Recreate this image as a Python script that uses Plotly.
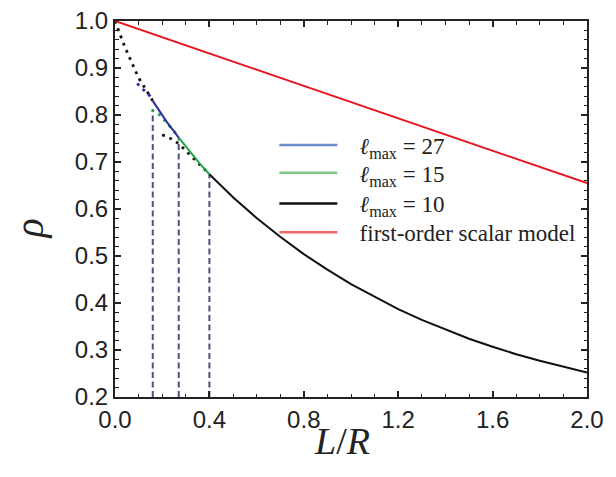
import plotly.graph_objects as go

# ---- data ----
# l_max = 10 (solid part, valid region)
x_l10 = [0.4, 0.5, 0.6, 0.7, 0.8, 0.9, 1.0, 1.1, 1.2, 1.3, 1.4, 1.5, 1.6, 1.7, 1.8, 1.9, 2.0]
rho_l10 = [0.674, 0.625, 0.581, 0.541, 0.504, 0.471, 0.440, 0.413, 0.387, 0.364, 0.344,
           0.324, 0.307, 0.291, 0.277, 0.264, 0.252]
# l_max = 10 (dotted extension)
x_l10_ext = [0.20, 0.24, 0.27, 0.30, 0.33, 0.37, 0.40]
rho_l10_ext = [0.758, 0.749, 0.739, 0.724, 0.710, 0.690, 0.674]

# l_max = 15
x_l15 = [0.27, 0.30, 0.33, 0.36, 0.40]
rho_l15 = [0.752, 0.733, 0.714, 0.696, 0.674]
x_l15_ext = [0.155, 0.19, 0.22, 0.25, 0.27]
rho_l15_ext = [0.811, 0.800, 0.783, 0.766, 0.752]

# l_max = 27
x_l27 = [0.16, 0.19, 0.22, 0.25, 0.27]
rho_l27 = [0.830, 0.807, 0.785, 0.765, 0.752]
x_l27_ext = [0.094, 0.12, 0.147, 0.16]
rho_l27_ext = [0.867, 0.855, 0.841, 0.830]

# extrapolation towards L/R = 0
x_zero = [0.0, 0.02, 0.04, 0.06, 0.08, 0.10, 0.13, 0.16]
rho_zero = [1.0, 0.972, 0.947, 0.924, 0.901, 0.879, 0.855, 0.830]

# first-order scalar model
x_scalar = [0.0, 2.0]
rho_scalar = [1.0, 0.655]

# validity cut-offs (vertical dashed markers)
x_cut = [0.16, 0.27, 0.40]
rho_cut_top = [0.812, 0.752, 0.674]
rho_floor = 0.2

xticks = [0.0, 0.4, 0.8, 1.2, 1.6, 2.0]
xticklabels = ["0.0", "0.4", "0.8", "1.2", "1.6", "2.0"]
yticks = [0.2, 0.3, 0.4, 0.5, 0.6, 0.7, 0.8, 0.9, 1.0]
yticklabels = ["0.2", "0.3", "0.4", "0.5", "0.6", "0.7", "0.8", "0.9", "1.0"]

legend_names = ["<i>ℓ</i><sub>max</sub> = 27", "<i>ℓ</i><sub>max</sub> = 15",
                "<i>ℓ</i><sub>max</sub> = 10", "first-order scalar model"]
x_title = "<i>L</i>/<i>R</i>"
y_title = "<i>ρ</i>"

BLUE = "#2e2e9e"
GREEN = "#1fa845"
RED = "#e8141e"
BLACK = "#111111"
VDASH = "#50507c"
LEG_COLORS = ["#6b8cca", "#7ec87e", "#111111", "#ee6a6a"]

fig = go.Figure()

# vertical dashed cut-off lines
vx, vy = [], []
for xc, yt in zip(x_cut, rho_cut_top):
    vx += [xc, xc, None]
    vy += [rho_floor, yt, None]
fig.add_trace(go.Scatter(x=vx, y=vy, mode="lines", showlegend=False,
                         line=dict(color=VDASH, width=2, dash="6px,3.5px")))

dot = "2.8px,5px"
fig.add_trace(go.Scatter(x=x_zero, y=rho_zero, mode="lines", showlegend=False,
                         line=dict(color=BLACK, width=2.8, dash=dot)))
fig.add_trace(go.Scatter(x=x_l10_ext, y=rho_l10_ext, mode="lines", showlegend=False,
                         line=dict(color=BLACK, width=2.8, dash=dot)))
fig.add_trace(go.Scatter(x=x_l15_ext, y=rho_l15_ext, mode="lines", showlegend=False,
                         line=dict(color=GREEN, width=2.8, dash=dot)))
fig.add_trace(go.Scatter(x=x_l27_ext, y=rho_l27_ext, mode="lines", showlegend=False,
                         line=dict(color=BLUE, width=2.8, dash=dot)))

fig.add_trace(go.Scatter(x=x_l10, y=rho_l10, mode="lines", showlegend=False,
                         line=dict(color=BLACK, width=2)))
fig.add_trace(go.Scatter(x=x_l15, y=rho_l15, mode="lines", showlegend=False,
                         line=dict(color=GREEN, width=2)))
fig.add_trace(go.Scatter(x=x_l27, y=rho_l27, mode="lines", showlegend=False,
                         line=dict(color=BLUE, width=2)))
fig.add_trace(go.Scatter(x=x_scalar, y=rho_scalar, mode="lines", showlegend=False,
                         line=dict(color=RED, width=2)))

# legend entries (one small legend per row so the row spacing matches)
legend_keys = ["legend", "legend2", "legend3", "legend4"]
GAP = "\u2002\u2005"
for name, col, key in zip(legend_names, LEG_COLORS, legend_keys):
    fig.add_trace(go.Scatter(x=[None], y=[None], mode="lines", name=GAP + name, legend=key,
                             line=dict(color=col, width=2.5)))

axis_common = dict(
    showline=True, linecolor="#222222", linewidth=2, mirror="ticks",
    ticks="inside", ticklen=6, tickwidth=1.5, tickcolor="#222222",
    showgrid=False, zeroline=False, automargin=False, ticklabeloverflow="allow",
    tickfont=dict(family="Liberation Sans, Arial, sans-serif", size=24, color="#222222"),
)

fig.update_xaxes(
    range=[0, 2.0], tickvals=xticks, ticktext=xticklabels,
    minor=dict(dtick=0.1, ticks="inside", ticklen=3.5, tickwidth=1.2, tickcolor="#222222", showgrid=False),
    **axis_common)
fig.update_yaxes(
    range=[0.2, 1.0], tickvals=yticks, ticktext=yticklabels,
    minor=dict(dtick=0.02, tick0=0.2, ticks="inside", ticklen=3.5, tickwidth=1.2, tickcolor="#222222", showgrid=False),
    **axis_common)

title_font = dict(family="Liberation Serif, Times New Roman, serif", color="#222222")
fig.add_annotation(text=x_title, xref="paper", yref="paper", x=0.4815, y=-0.117,
                   xanchor="center", yanchor="middle", showarrow=False,
                   font=dict(size=38, **title_font))
fig.add_annotation(text=y_title, xref="paper", yref="paper", x=-0.181, y=0.447,
                   xanchor="center", yanchor="middle", showarrow=False, textangle=-90,
                   font=dict(size=40, **title_font))

leg_font = dict(family="Liberation Serif, Times New Roman, serif", size=23, color="#222222")
row_y = [0.670, 0.596, 0.5145, 0.438]
leg_layout = {}
for key, yy in zip(legend_keys, row_y):
    leg_layout[key] = dict(x=0.3376, y=yy, xanchor="left", yanchor="middle",
                           bgcolor="rgba(0,0,0,0)", borderwidth=0, font=leg_font,
                           itemwidth=58)

# the page body adds an 8px offset; margins compensate for it
fig.update_layout(
    width=616, height=477,
    margin=dict(l=106.5, r=37, t=13, b=88),
    paper_bgcolor="white", plot_bgcolor="white",
    showlegend=True,
    **leg_layout,
)

fig.write_html("out.html")
